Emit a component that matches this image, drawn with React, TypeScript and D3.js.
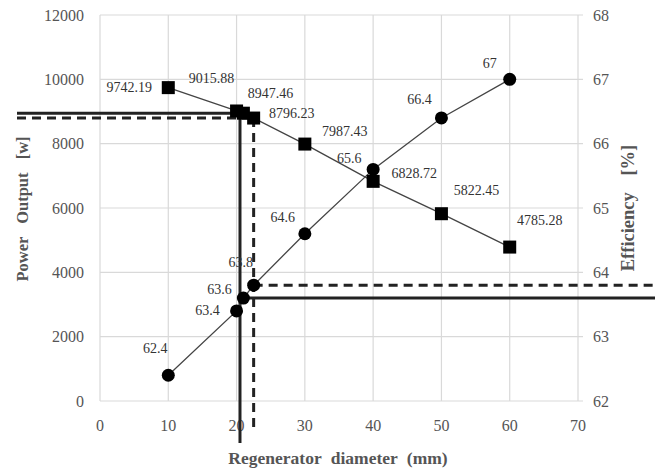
import React from "react";
import * as d3 from "d3";

const diameters = [10, 20, 21, 22.5, 30, 40, 50, 60];
const powerOutput = [9742.19, 9015.88, 8947.46, 8796.23, 7987.43, 6828.72, 5822.45, 4785.28];
const efficiency = [62.4, 63.4, 63.6, 63.8, 64.6, 65.6, 66.4, 67];
const powerLabelOffsets = [[-39, 0], [-25, -32], [27, -20], [38, -5], [40, -13], [41, -8], [35, -23], [30, -27]];
const effLabelOffsets = [[-13, -27], [-29, 0], [-24, -9], [-13, -23], [-22, -16], [-24, -11], [-22, -18], [-20, -16]];
const xTicks = [0, 10, 20, 30, 40, 50, 60, 70];
const yLeftTicks = [0, 2000, 4000, 6000, 8000, 10000, 12000];
const yRightTicks = [62, 63, 64, 65, 66, 67, 68];
const solidRef = { x: 20.5, power: 8947.46, eff: 63.6 };
const dashedRef = { x: 22.5, power: 8796.23, eff: 63.8 };

const W = 655, H = 470;
const L = 100, R = 578, T = 15, B = 401;

export default function App() {
  const x = d3.scaleLinear().domain([0, 70]).range([L, R]);
  const yL = d3.scaleLinear().domain([0, 12000]).range([B, T]);
  const yR = d3.scaleLinear().domain([62, 68]).range([B, T]);
  const font = "'Liberation Serif', 'Times New Roman', serif";
  const powerLine = d3.line<number>().x((_, i) => x(diameters[i])).y((d) => yL(d))(powerOutput) || "";
  const effLine = d3.line<number>().x((_, i) => x(diameters[i])).y((d) => yR(d))(efficiency) || "";
  const sq = 13;
  return (
    <svg width={W} height={H} style={{ position: "absolute", left: 0, top: 0, background: "#fff" }}>
      <rect x={0} y={0} width={W} height={H} fill="#fff" />
      {yLeftTicks.map((t) => (
        <line key={"gy" + t} x1={L} x2={R + 5} y1={yL(t)} y2={yL(t)} stroke="#d9d9d9" strokeWidth={1.2} />
      ))}
      {xTicks.map((t) => (
        <line key={"gx" + t} x1={x(t)} x2={x(t)} y1={T} y2={B} stroke="#d9d9d9" strokeWidth={1.2} />
      ))}
      {yLeftTicks.map((t) => (
        <text key={"ly" + t} x={84} y={yL(t)} textAnchor="end" dominantBaseline="central" fontFamily={font} fontSize={16} fill="#555">{t}</text>
      ))}
      {yRightTicks.map((t) => (
        <text key={"ry" + t} x={593} y={yR(t)} textAnchor="start" dominantBaseline="central" fontFamily={font} fontSize={16} fill="#555">{t}</text>
      ))}
      {xTicks.map((t) => (
        <text key={"lx" + t} x={x(t)} y={425} textAnchor="middle" dominantBaseline="central" fontFamily={font} fontSize={16} fill="#555">{t}</text>
      ))}
      <text x={338} y={458} textAnchor="middle" dominantBaseline="central" fontFamily={font} fontSize={17.5} fontWeight="bold" fill="#555" wordSpacing={5}>Regenerator diameter (mm)</text>
      <text transform={`translate(22,209) rotate(-90)`} textAnchor="middle" dominantBaseline="central" fontFamily={font} fontSize={16.5} fontWeight="bold" fill="#555" wordSpacing={9}>Power Output [w]</text>
      <text transform={`translate(628,208) rotate(-90)`} textAnchor="middle" dominantBaseline="central" fontFamily={font} fontSize={18.5} fontWeight="bold" fill="#555" wordSpacing={12}>Efficiency [%]</text>
      <line x1={17} x2={x(solidRef.x)} y1={yL(solidRef.power)} y2={yL(solidRef.power)} stroke="#222" strokeWidth={3} />
      <line x1={x(solidRef.x)} x2={x(solidRef.x)} y1={yL(solidRef.power)} y2={443} stroke="#222" strokeWidth={3} />
      <line x1={x(solidRef.x)} x2={W} y1={yR(solidRef.eff)} y2={yR(solidRef.eff)} stroke="#222" strokeWidth={3} />
      <line x1={17} x2={x(dashedRef.x)} y1={yL(dashedRef.power)} y2={yL(dashedRef.power)} stroke="#222" strokeWidth={3} strokeDasharray="9,6" />
      <line x1={x(dashedRef.x)} x2={x(dashedRef.x)} y1={yL(dashedRef.power)} y2={433} stroke="#222" strokeWidth={3} strokeDasharray="9,6" />
      <line x1={x(dashedRef.x)} x2={W} y1={yR(dashedRef.eff)} y2={yR(dashedRef.eff)} stroke="#222" strokeWidth={3} strokeDasharray="9,6" />
      <path d={powerLine} fill="none" stroke="#444" strokeWidth={1.3} />
      <path d={effLine} fill="none" stroke="#444" strokeWidth={1.3} />
      {powerOutput.map((v, i) => (
        <rect key={"s" + i} x={x(diameters[i]) - sq / 2} y={yL(v) - sq / 2} width={sq} height={sq} fill="#000" />
      ))}
      {efficiency.map((v, i) => (
        <circle key={"c" + i} cx={x(diameters[i])} cy={yR(v)} r={6.5} fill="#000" />
      ))}
      {powerOutput.map((v, i) => (
        <text key={"pl" + i} x={x(diameters[i]) + powerLabelOffsets[i][0]} y={yL(v) + powerLabelOffsets[i][1]} textAnchor="middle" dominantBaseline="central" fontFamily={font} fontSize={14} fill="#333">{v.toFixed(2)}</text>
      ))}
      {efficiency.map((v, i) => (
        <text key={"el" + i} x={x(diameters[i]) + effLabelOffsets[i][0]} y={yR(v) + effLabelOffsets[i][1]} textAnchor="middle" dominantBaseline="central" fontFamily={font} fontSize={14} fill="#333">{String(v)}</text>
      ))}
    </svg>
  );
}
